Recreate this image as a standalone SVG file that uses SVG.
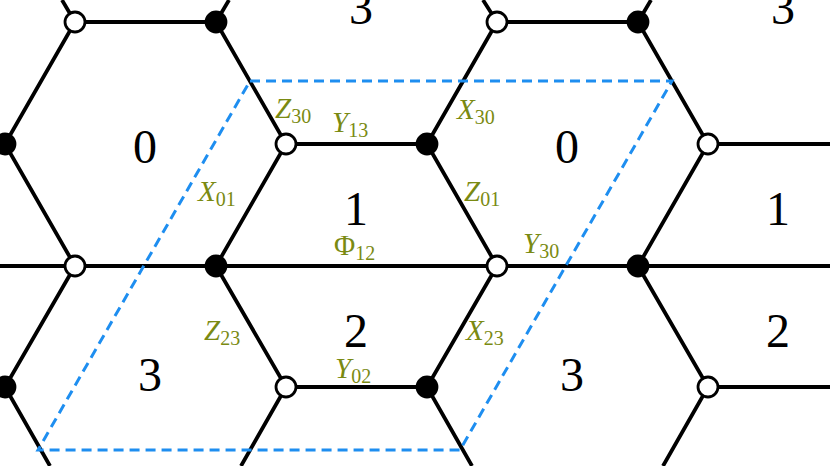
<svg xmlns="http://www.w3.org/2000/svg" width="830" height="466" viewBox="0 0 830 466">
<style>
.e{stroke:#000;stroke-width:3.8;fill:none}
.w{fill:#fff;stroke:#000;stroke-width:2.8}
.b{fill:#000;stroke:#000;stroke-width:2.8}
.f{font-family:"Liberation Serif",serif;font-size:48px;fill:#000;text-anchor:middle}
.l{font-family:"Liberation Serif",serif;font-style:italic;font-size:29px;fill:#7a8a12}
.s{font-style:normal;font-size:20px}
.u{font-style:normal}
</style>
<rect width="830" height="466" fill="#fff"/>
<g id="edges">
<path class="e" d="M75,22H216M497,22H638M62,0L75,22L5,144L75,266M216,22L229,0M216,22L286,144L216,266M286,144H427M427,144L497,22L483,0M427,144L497,266M638,22L651,0M638,22L708,144L638,266M708,144H830M0,266H830M75,266L5,387L50,466M216,266L286,387L241,466M286,387H427M497,266L427,387L472,466M638,266L708,387L663,466M708,387H830"/>
</g>
<g id="cell"><path d="M250,81H672L460,450H38Z" fill="none" stroke="#1e8ef0" stroke-width="3" stroke-dasharray="10,6"/></g>
<g id="nodes">
<circle class="w" cx="75" cy="22" r="10"/><circle class="b" cx="216" cy="22" r="10"/>
<circle class="w" cx="497" cy="22" r="10"/><circle class="b" cx="638" cy="22" r="10"/>
<circle class="b" cx="5" cy="144" r="10"/><circle class="w" cx="286" cy="144" r="10"/>
<circle class="b" cx="427" cy="144" r="10"/><circle class="w" cx="708" cy="144" r="10"/>
<circle class="w" cx="75" cy="266" r="10"/><circle class="b" cx="216" cy="266" r="10"/>
<circle class="w" cx="497" cy="266" r="10"/><circle class="b" cx="638" cy="266" r="10"/>
<circle class="b" cx="5" cy="387" r="10"/><circle class="w" cx="286" cy="387" r="10"/>
<circle class="b" cx="427" cy="387" r="10"/><circle class="w" cx="708" cy="387" r="10"/>
</g>
<g id="faces">
<text class="f" x="145" y="163">0</text><text class="f" x="567" y="163">0</text>
<text class="f" x="356" y="225">1</text><text class="f" x="778" y="225">1</text>
<text class="f" x="356" y="347">2</text><text class="f" x="778" y="347">2</text>
<text class="f" x="150" y="391">3</text><text class="f" x="572" y="391">3</text>
<text class="f" x="361" y="24">3</text><text class="f" x="783" y="24">3</text>
</g>
<g id="labels">
<text class="l" x="275" y="118">Z<tspan class="s" dy="5">30</tspan></text>
<text class="l" x="332" y="132">Y<tspan class="s" dy="5">13</tspan></text>
<text class="l" x="198" y="201">X<tspan class="s" dy="5">01</tspan></text>
<text class="l u" x="334" y="255">Φ<tspan class="s" dy="5">12</tspan></text>
<text class="l" x="204" y="340">Z<tspan class="s" dy="5">23</tspan></text>
<text class="l" x="335" y="378">Y<tspan class="s" dy="5">02</tspan></text>
<text class="l" x="457" y="119">X<tspan class="s" dy="5">30</tspan></text>
<text class="l" x="464" y="201">Z<tspan class="s" dy="5">01</tspan></text>
<text class="l" x="523" y="253">Y<tspan class="s" dy="5">30</tspan></text>
<text class="l" x="466" y="340">X<tspan class="s" dy="5">23</tspan></text>
</g>
</svg>
